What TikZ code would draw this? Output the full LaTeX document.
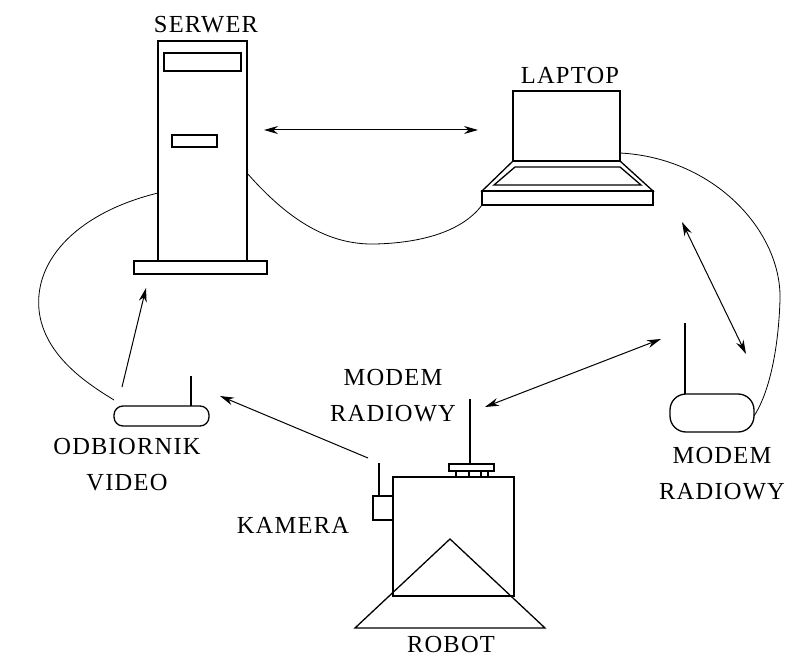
\documentclass[tikz,border=0pt]{standalone}
\usepackage{fontspec}
\setmainfont{Liberation Serif}[LetterSpace=5.0]
\usetikzlibrary{arrows.meta}

\begin{document}
\begin{tikzpicture}[x=1pt,y=-1pt,>={Stealth[length=14pt,width=8pt]},
    dev/.style={draw,line width=1.3pt},
    cable/.style={draw,line width=0.8pt},
    link/.style={draw,line width=1pt},
    lbl/.style={font=\fontsize{24.5}{36}\selectfont,align=center,inner sep=0pt}]

    \useasboundingbox (0,0) rectangle (795,660);

            % serwer
            \draw[dev] (158,41) rectangle (247,261);
            \draw[dev] (164,53) rectangle (241,71);
            \draw[dev] (172,135) rectangle (217,147);
            \draw[dev] (134,261) rectangle (267,274);
            \node[lbl] (serwer) at (206,25) {SERWER};

            % laptop
            \draw[dev] (513,91) rectangle (620,161);
            \draw[dev] (513,161) -- (482,191) -- (653,191) -- (620,161) -- cycle;
            \draw[dev] (515,167) -- (620,167) -- (641,185) -- (494,185) -- cycle;
            \draw[dev] (482,191) rectangle (653,205);
            \node[lbl] (laptop) at (570,76) {LAPTOP};

            % modem przy laptopie
            \draw[dev,rounded corners=16pt] (670,394) rectangle (754,432);
            \draw[dev] (685,323) -- (685,394);
            \node[lbl] (modem2) at (722,474) {MODEM\\RADIOWY};

            % odbiornik
            \draw[dev,rounded corners=9pt] (114,406) rectangle (209,426);
            \draw[dev] (191,376) -- (191,406);
            \node[lbl] (odb) at (127,465) {ODBIORNIK\\VIDEO};

            % robot
            \draw[dev] (393,477) rectangle (514,596);
            \draw[dev] (355,628) -- (450,539) -- (545,628) -- cycle;
            \draw[dev] (449,464) rectangle (494,471);
            \draw[dev] (456,471) rectangle (488,477);
            \draw[dev] (469,471) -- (469,477) (481,471) -- (481,477);
            \draw[dev] (470,399) -- (470,464);
            \draw[dev] (373,496) rectangle (393,520);
            \draw[dev] (379,463) -- (379,496);
            \node[lbl] (robot) at (451,645) {ROBOT};
            \node[lbl] (kamera) at (293,525) {KAMERA};
            \node[lbl] (modem1) at (393,396) {MODEM\\RADIOWY};

            % punkty polaczen
            \coordinate (s1) at (264,130);
            \coordinate (l1) at (478,130);
            \coordinate (o1) at (122,387);
            \coordinate (s2) at (146,288);
            \coordinate (r1) at (368,458);
            \coordinate (o2) at (220,396);
            \coordinate (m1) at (485,407);
            \coordinate (m2) at (661,339);
            \coordinate (l2) at (682,222);
            \coordinate (m3) at (746,354);

            \path[link]
                (s1) edge[<->] (l1)
                (o1) edge[->] (s2)
                (r1) edge[->] (o2)
                (m1) edge[<->] (m2)
                (l2) edge[<->] (m3)
                ;

            % kable
            \draw[cable] (247,173) .. controls (290,222) and (330,245) .. (375,244)
                .. controls (420,243) and (462,232) .. (482,205);
            \draw[cable] (620,153) .. controls (715,158) and (782,232) .. (780,300)
                .. controls (778,360) and (766,398) .. (754,416);
            \draw[cable] (158,193) .. controls (80,212) and (34,258) .. (39,310)
                .. controls (44,356) and (88,384) .. (114,400);
\end{tikzpicture}
\end{document}
